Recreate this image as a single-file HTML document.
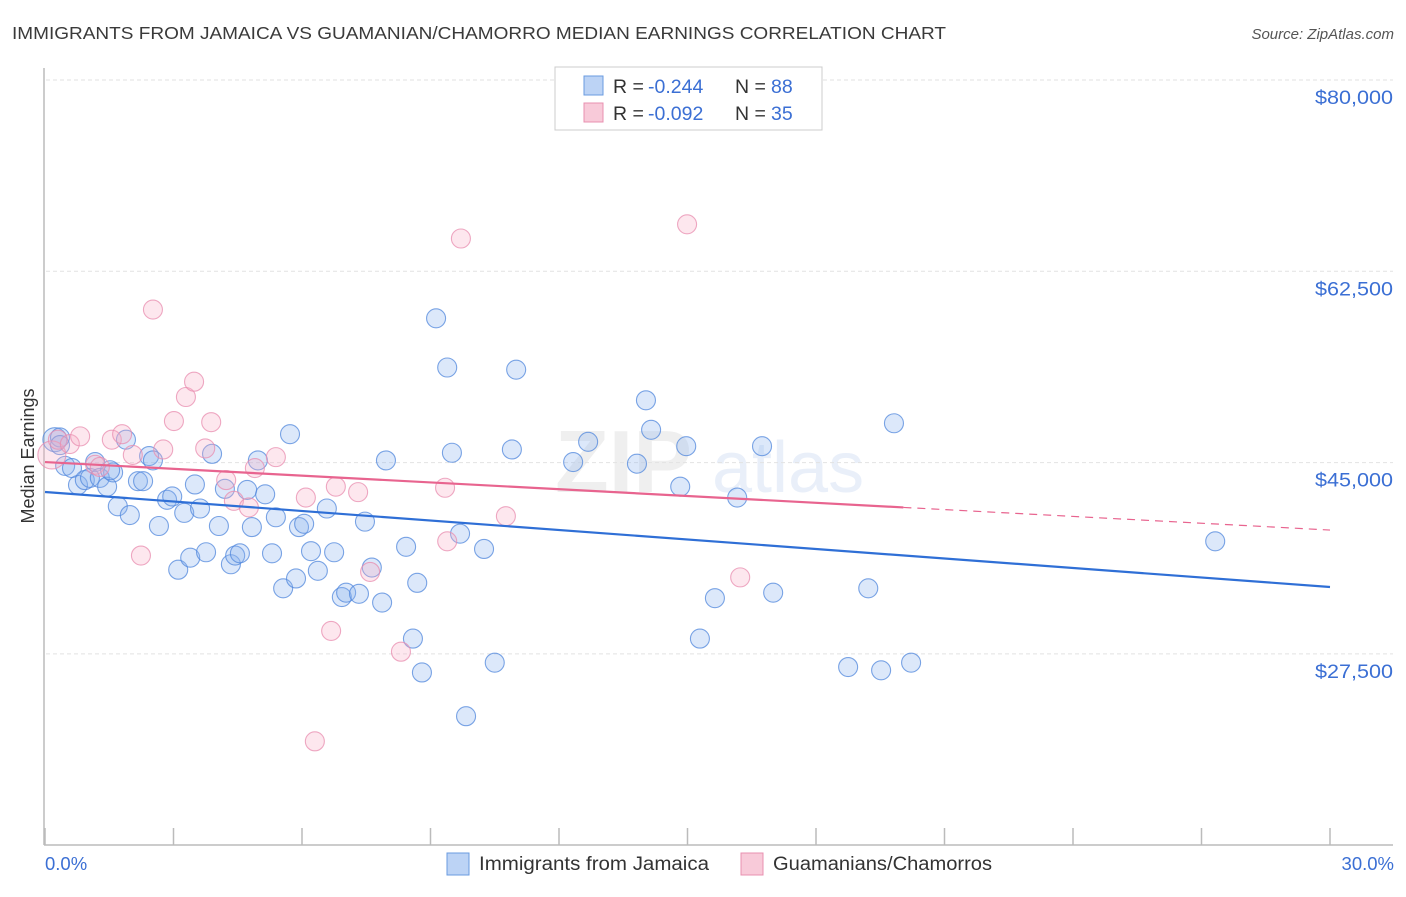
<!DOCTYPE html>
<html><head><meta charset="utf-8">
<style>
body{margin:0;background:#fff;font-family:"Liberation Sans",sans-serif;}
svg text{font-family:"Liberation Sans",sans-serif;}
</style></head>
<body>
<svg id="chart" width="1406" height="892" viewBox="0 0 1406 892" xmlns="http://www.w3.org/2000/svg">
<text x="12" y="39" font-size="17.5" fill="#3a3a3a" textLength="934" lengthAdjust="spacingAndGlyphs">IMMIGRANTS FROM JAMAICA VS GUAMANIAN/CHAMORRO MEDIAN EARNINGS CORRELATION CHART</text>
<text x="1394" y="39" font-size="15" fill="#555" font-style="italic" text-anchor="end">Source: ZipAtlas.com</text>
<g opacity="0.13">
<text x="555" y="492" font-size="88" font-family="Liberation Serif,serif" font-weight="bold" fill="#888">ZIP</text>
<text x="712" y="492" font-size="72" fill="#5a8ad8">atlas</text>
</g>
<g id="grid"></g>
<line x1="44" y1="68" x2="44" y2="845" stroke="#bbb" stroke-width="1.5"/>
<line x1="44" y1="845" x2="1393" y2="845" stroke="#bbb" stroke-width="1.5"/>
<g id="xticks"></g>
<text transform="translate(34,456) rotate(-90)" font-size="18" fill="#333" text-anchor="middle">Median Earnings</text>
<text x="45" y="870" font-size="18.5" fill="#3b6fd4">0.0%</text>
<text x="1394" y="870" font-size="18.5" fill="#3b6fd4" text-anchor="end">30.0%</text>
<g id="pts-blue"></g>
<g id="pts-pink"></g>
<g id="trends"></g>
<g>
<rect x="555" y="67" width="267" height="63" fill="#fff" stroke="#ccc"/>
<g>
<rect x="584" y="76" width="19" height="19" fill="#bcd3f5" stroke="#6a9be0"/>
<text x="613" y="93" font-size="19.5" fill="#333">R = </text>
<text x="648" y="93" font-size="19.5" fill="#3b6fd4">-0.244</text>
<text x="735" y="93" font-size="19.5" fill="#333">N = </text>
<text x="771" y="93" font-size="19.5" fill="#3b6fd4">88</text>
</g>
<g>
<rect x="584" y="103" width="19" height="19" fill="#f8cad9" stroke="#e890b0"/>
<text x="613" y="120" font-size="19.5" fill="#333">R = </text>
<text x="648" y="120" font-size="19.5" fill="#3b6fd4">-0.092</text>
<text x="735" y="120" font-size="19.5" fill="#333">N = </text>
<text x="771" y="120" font-size="19.5" fill="#3b6fd4">35</text>
</g>
</g>
<g>
<g>
<rect x="447" y="853" width="22" height="22" fill="#bcd3f5" stroke="#6a9be0"/>
<text x="479" y="870" font-size="19" fill="#333" textLength="230" lengthAdjust="spacingAndGlyphs">Immigrants from Jamaica</text>
</g>
<g>
<rect x="741" y="853" width="22" height="22" fill="#f8cad9" stroke="#e890b0"/>
<text x="773" y="870" font-size="19" fill="#333" textLength="219" lengthAdjust="spacingAndGlyphs">Guamanians/Chamorros</text>
</g>
</g>
</svg>
<script>
const yTicks=[80000,62500,45000,27500];
const yTickLabels=["$80,000","$62,500","$45,000","$27,500"];
const xTicks=[0,3,6,9,12,15,18,21,24,27,30];
const blueX=[0.23,0.35,0.47,0.63,0.77,0.93,1.05,1.17,1.28,1.45,1.59,1.70,1.89,1.98,2.17,2.29,2.43,2.52,2.66,2.85,2.97,3.11,3.25,3.39,3.50,3.62,3.76,3.90,4.06,4.20,4.34,4.44,4.55,4.72,4.83,4.97,5.14,5.30,5.39,5.56,5.72,5.86,5.93,6.05,6.21,6.37,6.58,6.75,6.93,7.03,7.33,7.47,7.63,7.87,7.96,8.43,8.69,8.59,8.80,9.13,9.39,9.50,9.69,9.83,10.25,10.50,10.90,11.00,12.33,12.68,13.82,14.03,14.15,14.83,14.97,15.29,15.64,16.16,16.74,17.00,18.75,19.22,19.52,19.82,20.22,27.32,0.35,1.52];
const blueY=[47100,47300,44700,44500,42950,43400,43600,45050,43600,42800,44100,41000,47100,40200,43300,43300,45600,45200,39200,41600,41900,35200,40400,36300,43000,40800,36800,45800,39200,42600,35700,36500,36700,42500,39100,45200,42100,36700,40000,33500,47600,34400,39100,39400,36900,35100,40800,36800,32700,33100,33000,39600,35400,32200,45200,37300,34000,28900,25800,58200,53700,45900,38500,21800,37100,26700,46200,53500,45050,46900,44900,50700,48000,42800,46500,28900,32600,41800,46500,33100,26300,33500,26000,48600,26700,37800,46600,44300];
const pinkX=[0.16,0.30,0.58,0.82,1.17,1.56,1.80,2.05,2.24,2.52,2.76,3.01,3.29,3.48,3.74,3.88,4.23,4.41,4.76,4.90,5.39,6.09,6.79,6.68,7.31,7.59,8.31,6.30,9.34,9.39,9.71,10.76,14.99,16.23,1.28];
const pinkY=[45700,47100,46700,47400,44800,47100,47600,45700,36500,59000,46200,48800,51000,52400,46300,48700,43400,41500,40900,44500,45500,41800,42800,29600,42300,35000,27700,19500,42700,37800,65500,40100,66800,34500,44600];
const blueTrendX=[0,30];
const blueTrendY=[42310,33620];
const pinkTrendX=[0,20.04,30];
const pinkTrendY=[45050,40900,38830];

const NS="http://www.w3.org/2000/svg";
function X(p){return 45+p*(1330-45)/30;}
function Y(v){return 80+(80000-v)*191.3/17500;}
function mk(t,a,parent){const e=document.createElementNS(NS,t);for(const k in a)e.setAttribute(k,a[k]);parent.appendChild(e);return e;}
const grid=document.getElementById('grid');
yTicks.forEach((v,i)=>{
  const l=mk('line',{x1:46,x2:1393,y1:Y(v),y2:Y(v),stroke:'#e2e2e2','stroke-dasharray':'4,3'},grid);
  
  
  const t=mk('text',{x:1393,y:Y(v)+24,'font-size':19.5,fill:'#3b6fd4','text-anchor':'end',textLength:78,lengthAdjust:'spacingAndGlyphs'},grid);
  t.textContent=yTickLabels[i];
  
  
});
const xt=document.getElementById('xticks');
xTicks.forEach(p=>{
  const l=mk('line',{x1:X(p),x2:X(p),y1:828,y2:845,stroke:'#bbb','stroke-width':1.5},xt);
  
  
});
const gb=document.getElementById('pts-blue');
blueX.forEach((x,i)=>{
  const r=i===0?12:9.5;
  const c=mk('circle',{cx:X(x),cy:Y(blueY[i]),r:r,fill:'rgba(140,180,240,0.3)',stroke:'rgba(80,135,220,0.75)','stroke-width':1.1},gb);
  
  
});
const gp=document.getElementById('pts-pink');
pinkX.forEach((x,i)=>{
  const r=i===0?14:9.5;
  const c=mk('circle',{cx:X(x),cy:Y(pinkY[i]),r:r,fill:'rgba(248,175,200,0.3)',stroke:'rgba(232,140,175,0.75)','stroke-width':1.1},gp);
  
  
});
const tr=document.getElementById('trends');
const bl=mk('line',{x1:X(blueTrendX[0]),y1:Y(blueTrendY[0]),x2:X(blueTrendX[1]),y2:Y(blueTrendY[1]),stroke:'#2f6fd6','stroke-width':2.2},tr);


const pl=mk('line',{x1:X(pinkTrendX[0]),y1:Y(pinkTrendY[0]),x2:X(pinkTrendX[1]),y2:Y(pinkTrendY[1]),stroke:'#e8648f','stroke-width':2.2},tr);


const pd=mk('line',{x1:X(pinkTrendX[1]),y1:Y(pinkTrendY[1]),x2:X(pinkTrendX[2]),y2:Y(pinkTrendY[2]),stroke:'#e8648f','stroke-width':1.2,'stroke-dasharray':'8,6'},tr);


</script>
</body></html>
